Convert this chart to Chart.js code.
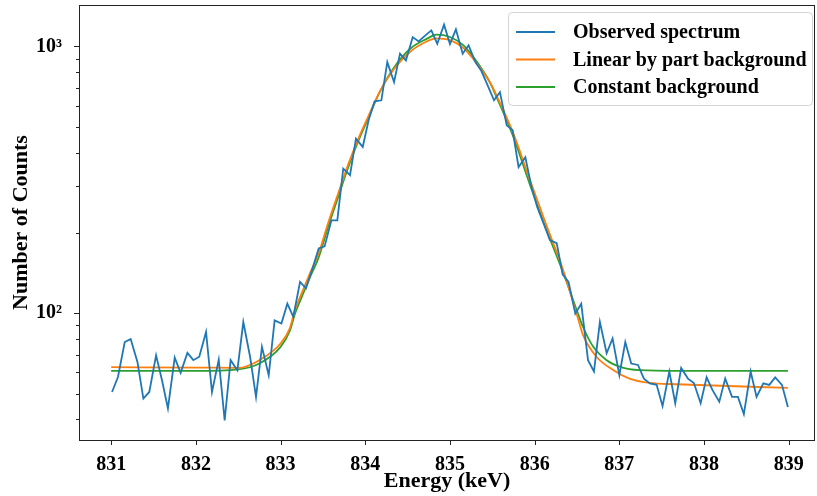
<!DOCTYPE html>
<html>
<head>
<meta charset="utf-8">
<script src="https://cdn.jsdelivr.net/npm/chart.js@4.4.1/dist/chart.umd.min.js"></script>
<style>
  body { margin: 0; background: #fff; }
</style>
</head>
<body>
<canvas id="myChart" width="817" height="496"></canvas>
<script>
//------ data

// energies of the observed channels (keV)
const energies = [
  831.01, 831.08, 831.16, 831.23, 831.31, 831.38, 831.45, 831.53, 831.60, 831.67,
  831.75, 831.82, 831.90, 831.97, 832.04, 832.12, 832.19, 832.27, 832.34, 832.41,
  832.49, 832.56, 832.64, 832.71, 832.78, 832.86, 832.93, 833.01, 833.08, 833.15,
  833.23, 833.30, 833.38, 833.45, 833.52, 833.60, 833.67, 833.74, 833.82, 833.89,
  833.97, 834.04, 834.11, 834.19, 834.26, 834.34, 834.41, 834.48, 834.56, 834.63,
  834.71, 834.78, 834.85, 834.93, 835.00, 835.07, 835.15, 835.22, 835.30, 835.37,
  835.44, 835.52, 835.59, 835.67, 835.74, 835.81, 835.89, 835.96, 836.03, 836.11,
  836.18, 836.26, 836.33, 836.40, 836.48, 836.55, 836.63, 836.70, 836.77, 836.85,
  836.92, 837.00, 837.07, 837.14, 837.22, 837.29, 837.36, 837.44, 837.51, 837.59,
  837.66, 837.73, 837.81, 837.88, 837.96, 838.03, 838.10, 838.18, 838.25, 838.33,
  838.40, 838.47, 838.55, 838.62, 838.70, 838.77, 838.84, 838.92, 838.99
];

// observed counts
const observed = [
  50.7, 57.7, 78, 80, 65.7, 47.9, 50.7, 69.6, 56.1, 44,
  68.2, 59.8, 71, 66.7, 68.7, 85.1, 50.7, 67, 39.7, 66.7,
  61.2, 92.7, 68.7, 48.6, 74.8, 58.6, 94, 91.5, 108.6, 97,
  131, 124, 148, 175, 178, 223, 223, 348, 329, 451,
  420, 530, 622, 628, 873, 735, 939, 886, 1083, 1044,
  1099, 1148, 1023, 1206, 1020, 1158, 939, 1009, 873, 810,
  720, 628, 674, 506, 485, 353, 384, 300, 250, 215,
  188, 183, 140, 131, 99.7, 108.6, 66.7, 60.5, 92.7, 70.8,
  80.5, 58.6, 78, 64.8, 64, 56.9, 54.6, 53.9, 44.9, 60.5,
  46, 62.4, 56.9, 54.8, 46, 57.5, 51.5, 46.6, 56.9, 48.6,
  48.6, 41.9, 60.5, 48.6, 54.6, 53.9, 57.5, 53.9, 44.5
];

// fit with linear by part background
const linearEnergies = [
  831.00, 832.00, 832.50, 832.75, 833.00, 833.11, 833.17, 833.25, 833.35, 833.45,
  833.56, 833.68, 833.80, 833.92, 834.04, 834.17, 834.33, 834.53, 834.73, 834.84,
  835.00, 835.16, 835.32, 835.47, 835.55, 835.75, 835.94, 836.14, 836.34, 836.51,
  836.57, 836.73, 836.93, 837.12, 837.36, 837.67, 838.99
];
const linearFit = [
  62.8, 62.6, 62.4, 66.7, 77, 88, 103, 119, 142, 168,
  217, 281, 362, 452, 550, 675, 815, 955, 1045, 1072,
  1055, 985, 860, 735, 655, 470, 318, 213, 144, 96,
  83, 68.7, 61.2, 56.9, 54.8, 54.2, 52.5
];

// fit with constant background
const constEnergies = [
  831.00, 832.00, 832.50, 832.75, 833.00, 833.11, 833.17, 833.25, 833.35, 833.45,
  833.56, 833.68, 833.80, 833.92, 834.04, 834.17, 834.33, 834.53, 834.73, 834.84,
  835.00, 835.16, 835.32, 835.47, 835.55, 835.75, 835.94, 836.14, 836.34, 836.51,
  836.57, 836.69, 836.85, 837.01, 837.24, 837.71, 838.99
];
const constFit = [
  60.8, 60.8, 61.6, 64.8, 74.8, 86, 99.7, 115, 137, 162,
  210, 273, 353, 444, 543, 674, 825, 980, 1069, 1106,
  1084, 1009, 873, 735, 646, 457, 306, 205, 141, 100,
  89, 75, 66.7, 63, 61.2, 60.8, 60.8
];

// axes
const xTicks = [831, 832, 833, 834, 835, 836, 837, 838, 839];
const yTicks = [40, 50, 60, 70, 80, 90, 100, 200, 300, 400, 500, 600, 700, 800, 900, 1000];
const yLabels = { 100: '10²', 1000: '10³' };
const seriesNames = ['Observed spectrum', 'Linear by part background', 'Constant background'];
const seriesColors = ['#1f77b4', '#ff7f0e', '#2ca02c'];

const FONT = "'Liberation Serif', 'Times New Roman', serif";

const toPoints = (xs, ys) => xs.map((x, i) => ({ x: x, y: ys[i] }));

//------ cadre + ticks (major / minor) + legende a la matplotlib
const framePlugin = {
  id: 'frame',
  afterDraw(chart) {
    const c = chart.ctx;
    const a = chart.chartArea;
    const xs = chart.scales.x, ys = chart.scales.y;
    c.save();
    c.strokeStyle = '#222';
    c.lineWidth = 1;
    c.strokeRect(a.left + 0.5, a.top + 0.5, a.right - a.left - 1, a.bottom - a.top);
    c.beginPath();
    xTicks.forEach(v => {
      const px = Math.round(xs.getPixelForValue(v)) + 0.5;
      c.moveTo(px, a.bottom); c.lineTo(px, a.bottom + 5);
    });
    yTicks.forEach(v => {
      const py = Math.round(ys.getPixelForValue(v)) + 0.5;
      const len = yLabels[v] ? 5 : 3;
      c.moveTo(a.left, py); c.lineTo(a.left - len, py);
    });
    c.stroke();

    // legende
    const bx = 508, by = 12, bw = 304, bh = 93;
    c.fillStyle = 'rgba(255,255,255,0.8)';
    c.strokeStyle = '#d4d4d4';
    c.beginPath();
    c.roundRect(bx + 0.5, by + 0.5, bw, bh, 4);
    c.fill();
    c.stroke();
    c.font = 'bold 20px ' + FONT;
    c.textBaseline = 'middle';
    seriesNames.forEach((name, i) => {
      const ly = by + 20 + i * 27.5;
      c.strokeStyle = seriesColors[i];
      c.lineWidth = 2;
      c.beginPath();
      c.moveTo(bx + 8, ly); c.lineTo(bx + 47, ly);
      c.stroke();
      c.fillStyle = '#000';
      c.fillText(name, bx + 65, ly + 1);
    });
    c.restore();
  }
};

const ctx = document.getElementById('myChart');

new Chart(ctx, {
  type: 'line',
  data: {
    datasets: [
      {
        label: seriesNames[0],
        data: toPoints(energies, observed),
        borderColor: seriesColors[0],
        borderWidth: 1.8,
        pointRadius: 0,
        tension: 0
      },
      {
        label: seriesNames[1],
        data: toPoints(linearEnergies, linearFit),
        borderColor: seriesColors[1],
        borderWidth: 1.8,
        pointRadius: 0,
        cubicInterpolationMode: 'monotone'
      },
      {
        label: seriesNames[2],
        data: toPoints(constEnergies, constFit),
        borderColor: seriesColors[2],
        borderWidth: 1.8,
        pointRadius: 0,
        cubicInterpolationMode: 'monotone'
      }
    ]
  },
  options: {
    responsive: false,
    animation: false,
    layout: { padding: { top: 5, right: 2, left: 0, bottom: 0 } },
    plugins: {
      legend: { display: false },
      tooltip: { enabled: false }
    },
    scales: {
      x: {
        type: 'linear',
        min: 830.62,
        max: 839.31,
        afterBuildTicks: scale => { scale.ticks = xTicks.map(v => ({ value: v })); },
        afterFit: scale => {
          scale.height = 56;
          scale.paddingLeft = 0;
          scale.paddingRight = 0;
        },
        grid: { display: false },
        border: { display: false },
        ticks: {
          autoSkip: false,
          maxRotation: 0,
          padding: 5,
          color: '#000',
          font: { family: FONT, size: 20, weight: 'bold' },
          callback: v => String(v)
        },
        title: {
          display: true,
          text: 'Energy (keV)',
          color: '#000',
          font: { family: FONT, size: 22, weight: 'bold' },
          padding: { top: 0, bottom: 1 }
        }
      },
      y: {
        type: 'logarithmic',
        min: 33.5,
        max: 1429,
        afterBuildTicks: scale => { scale.ticks = yTicks.map(v => ({ value: v })); },
        afterFit: scale => {
          scale.width = 79;
          scale.paddingTop = 0;
          scale.paddingBottom = 0;
        },
        grid: { display: false },
        border: { display: false },
        ticks: {
          autoSkip: false,
          padding: 9,
          color: '#000',
          font: { family: FONT, size: 20, weight: 'bold' },
          callback: v => yLabels[v] || ''
        },
        title: {
          display: true,
          text: 'Number of Counts',
          color: '#000',
          font: { family: FONT, size: 22, weight: 'bold' },
          padding: { top: 8, bottom: 0 }
        }
      }
    }
  },
  plugins: [framePlugin]
});
</script>
</body>
</html>
